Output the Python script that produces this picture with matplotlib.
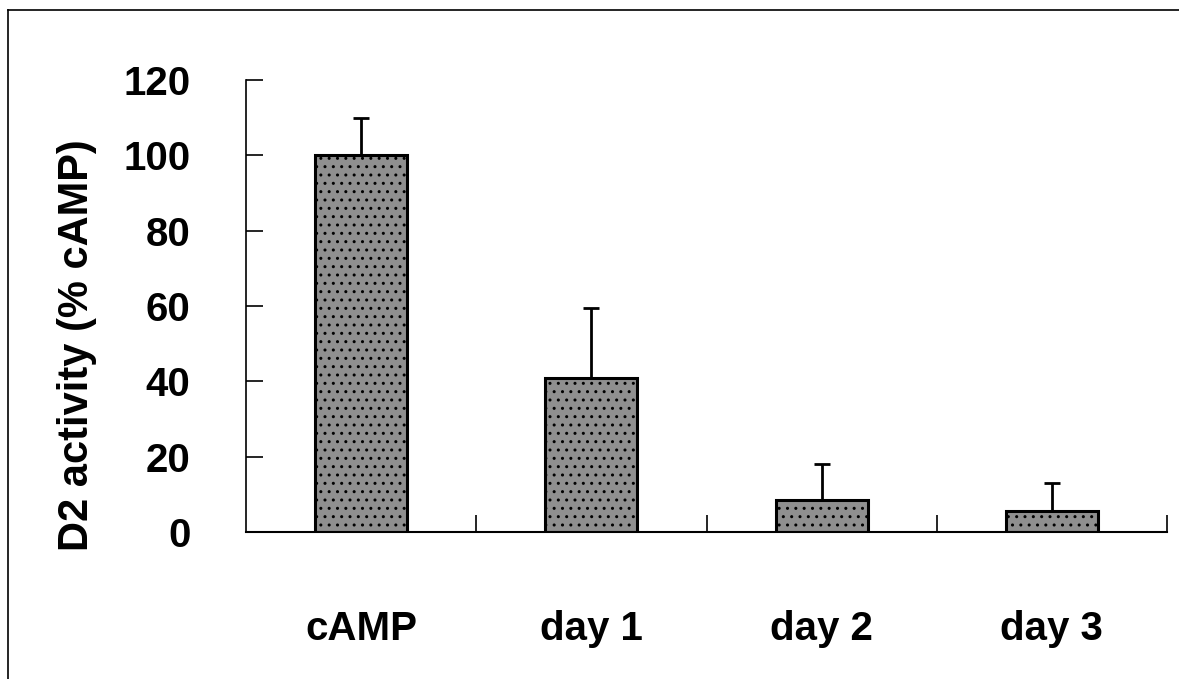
import numpy as np
import matplotlib
matplotlib.use("Agg")
import matplotlib.pyplot as plt
from matplotlib.lines import Line2D

# Data
groups = ["cAMP", "day 1", "day 2", "day 3"]
activity = [100, 41, 8.5, 5.5]
sem = [10, 18.5, 9.5, 7.5]
y_ticks = [0, 20, 40, 60, 80, 100, 120]

plt.rcParams["font.family"] = ["Liberation Sans", "DejaVu Sans"]
plt.rcParams["font.weight"] = "bold"
plt.rcParams["hatch.color"] = "#3a3a3a"

fig = plt.figure(figsize=(11.79, 6.79), dpi=100)
ax = fig.add_axes([246 / 1179, 1 - 532 / 679, (1167 - 246) / 1179, (532 - 80) / 679])

x = np.arange(len(groups))
ax.bar(x, activity, width=0.4, color="#8f8f8f", edgecolor="black", linewidth=2.2,
       hatch="..", zorder=2)
ax.errorbar(x, activity, yerr=[np.zeros(len(sem)), sem], fmt="none",
            ecolor="black", elinewidth=2, capsize=6, capthick=2, zorder=3)

ax.set_xlim(-0.5, len(groups) - 0.5)
ax.set_ylim(0, 120)

for side in ["top", "right"]:
    ax.spines[side].set_visible(False)
ax.spines["left"].set_linewidth(1.2)
ax.spines["bottom"].set_linewidth(1.5)

ax.set_yticks(y_ticks)
ax.set_yticklabels([str(v) for v in y_ticks])
ax.tick_params(axis="y", direction="in", length=12, width=1.2, pad=40,
               labelsize=29)

# category labels at bar centres, tick marks between categories
ax.set_xticks(x)
ax.set_xticklabels(groups)
ax.tick_params(axis="x", which="major", length=0, pad=56, labelsize=29)
ax.set_xticks(np.arange(0.5, len(groups)), minor=True)
ax.tick_params(axis="x", which="minor", direction="in", length=12, width=1.2)

for lab in ax.get_xticklabels() + ax.get_yticklabels():
    lab.set_fontweight("bold")

fig.text(77 / 1179, 1 - 345 / 679, "D2 activity (% cAMP)", rotation=90,
         ha="center", va="center", fontsize=30, fontweight="bold")

# frame around the figure (only left and top edges visible in the scan)
fig.add_artist(Line2D([8 / 1179, 8 / 1179], [0, 1 - 10 / 679], color="black", lw=1.2))
fig.add_artist(Line2D([8 / 1179, 1], [1 - 10 / 679, 1 - 10 / 679], color="black", lw=1.2))

fig.savefig("out.png", dpi=100, facecolor="white")
